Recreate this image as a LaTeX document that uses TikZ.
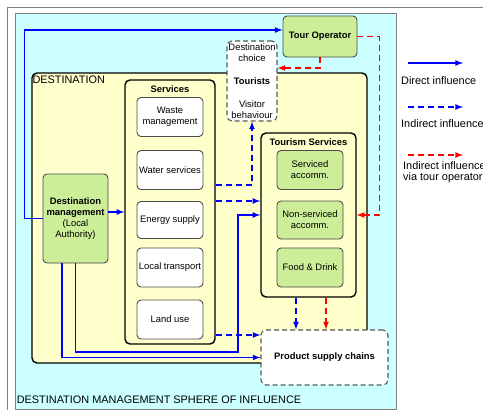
\documentclass[tikz,border=0pt]{standalone}
\usepackage{fontspec}
\setmainfont{Liberation Sans}
\usetikzlibrary{positioning}
\definecolor{spherecyan}{RGB}{204,255,255}
\definecolor{destyellow}{RGB}{255,255,204}
\definecolor{mgmtgreen}{RGB}{204,238,153}

\begin{document}
\begin{tikzpicture}[x=1pt, y=-1pt, node distance=50pt, font=\fontsize{9.4}{11}\selectfont]
    % Styles
    \tikzstyle{sphere} = [rectangle, draw=gray, fill=spherecyan, line width=0.8pt]
    \tikzstyle{zone} = [rectangle, draw, fill=destyellow, rounded corners=5pt, line width=1.4pt]
    \tikzstyle{item} = [rectangle, draw=black!70, fill=white, rounded corners=4pt, line width=0.9pt, minimum width=66pt, minimum height=39pt, align=center, inner sep=1pt]
    \tikzstyle{tourism} = [item, fill=mgmtgreen]
    \tikzstyle{actor} = [tourism, inner sep=2pt]
    \tikzstyle{dashbox} = [rectangle, draw=black!65, fill=white, dash pattern=on 5pt off 3pt, rounded corners=5pt, line width=1.1pt, align=center, inner sep=1pt]
    \tikzstyle{big} = [font=\fontsize{10.9}{11.5}\selectfont]
    \tikzstyle{direct} = [blue, line width=1.6pt, -latex]
    \tikzstyle{indirect} = [direct, dash pattern=on 6pt off 4pt]
    \tikzstyle{viaop} = [indirect, red]

    \useasboundingbox (0,0) rectangle (483,410);
    \draw [gray, line width=1pt] (7,7) rectangle (490,417);

    % Areas
    \node (sphere) [sphere, minimum width=381pt, minimum height=396pt] at (205.5,211) {};
    \node (spherelabel) [big, anchor=base west, inner sep=0pt] at ([xshift=2pt, yshift=6pt]sphere.south west) {DESTINATION MANAGEMENT SPHERE OF INFLUENCE};
    \node (destination) [zone, minimum width=335pt, minimum height=290pt] at (199.5,218) {};
    \node (destlabel) [big, anchor=north west, inner sep=1pt] at ([yshift=-2pt]destination.north west) {DESTINATION};
    \node (services) [zone, minimum width=90pt, minimum height=264pt] at (170,212) {};
    \node (servtitle) [below=3pt of services.north] {\textbf{Services}};
    \node (tourism) [zone, minimum width=95pt, minimum height=164pt] at (308.5,215) {};
    \node (tourtitle) [below=3pt of tourism.north] {\textbf{Tourism Services}};

    % Nodes
    \node (waste) [item] at (170,117) {Waste\\management};
    \node (water) [item, below of=waste, yshift=-3pt] {Water services};
    \node (energy) [item, below of=water, minimum height=37pt] {Energy supply};
    \node (transport) [item, below of=energy, yshift=2.5pt] {Local transport};
    \node (land) [item, below of=transport, yshift=-2pt] {Land use};

    \node (serviced) [tourism] at (310,170) {Serviced\\accomm.};
    \node (nonserviced) [tourism, below of=serviced, minimum height=38pt] {Non-serviced\\accomm.};
    \node (food) [tourism, below of=nonserviced, yshift=2.5pt] {Food \& Drink};

    \node (dm) [actor, minimum width=65pt, minimum height=89pt] at (75.5,218.5) {\textbf{Destination}\\\textbf{management}\\(Local\\Authority)};
    \node (tour) [actor, minimum width=74pt, minimum height=41pt] at (320,36.5) {\textbf{Tour Operator}};
    \node (tourists) [dashbox, minimum width=50pt, minimum height=80pt] at (252,81) {Destination\\choice\\[12pt]\textbf{Tourists}\\[12pt]Visitor\\behaviour};
    \node (psc) [dashbox, minimum width=127pt, minimum height=55pt] at (324.5,357.5) {\textbf{Product supply chains}};

    % Arrows
    \coordinate (loop) at (238,352);
    \draw [direct] (dm.west) -- ++(-18,0) |- ([yshift=6.5pt]tour.west);
    \draw [direct] ([yshift=6.5pt]dm.east) -- ([yshift=6.5pt]dm.east -| services.west);
    \draw [direct] (dm.south) |- (loop) |- (tourism.west);
    \draw [direct] ([xshift=-13.5pt]dm.south) |- (psc.west);
    \draw [indirect] ([yshift=27pt]services.east) -| (tourists.south);
    \draw [indirect] ([yshift=11pt]services.east) -- ([yshift=11pt]services.east -| tourism.west);
    \draw [indirect] ([yshift=-123pt]services.east) -- ([yshift=-123pt]services.east -| psc.west);
    \draw [indirect] ([xshift=-12.5pt]tourism.south) -- ([xshift=-12.5pt]tourism.south |- psc.north);
    \draw [viaop] ([xshift=17.5pt]tourism.south) -- ([xshift=17.5pt]tourism.south |- psc.north);
    \draw [viaop] (tour.south) |- ([yshift=13pt]tourists.east);
    \draw [viaop] (tour.east) -- ++(22,0) |- (tourism.east);

    % Legend
    \coordinate (key1a) at (408,63);
    \coordinate (key1b) at (463,63);
    \coordinate (key2a) at (408,107);
    \coordinate (key2b) at (463,107);
    \coordinate (key3a) at (408,155);
    \coordinate (key3b) at (463,155);
    \draw [direct] (key1a) -- (key1b);
    \draw [indirect] (key2a) -- (key2b);
    \draw [viaop] (key3a) -- (key3b);
    \node (key1) [big, anchor=base west, inner sep=0pt] at (401,84) {Direct influence};
    \node (key2) [big, anchor=base west, inner sep=0pt] at (401,127) {Indirect influence};
    \node (key3) [big, anchor=north west, align=left, inner sep=0pt] at (403,161) {Indirect influence\\via tour operator};
\end{tikzpicture}
\end{document}
